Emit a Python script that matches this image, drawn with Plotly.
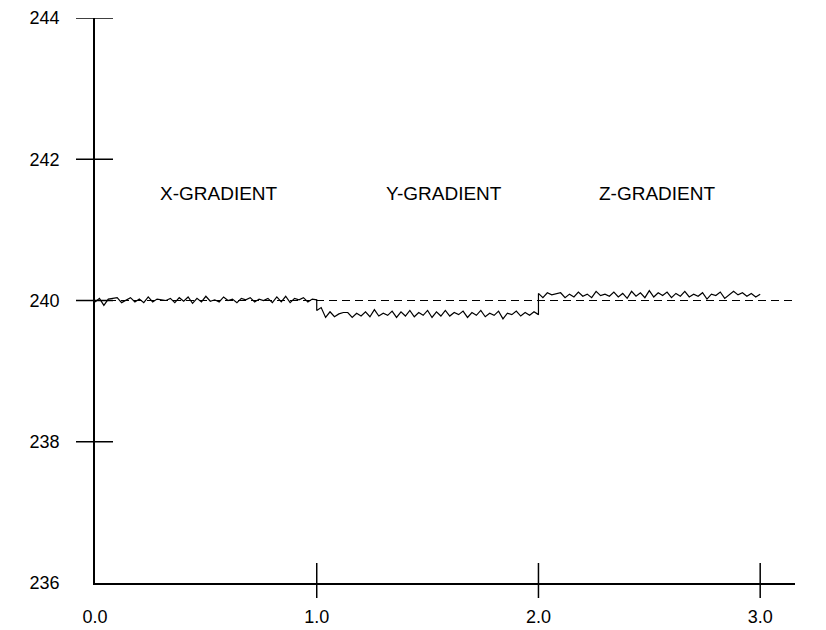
import plotly.graph_objects as go

# ---- data ----
SAMPLE_STEP = 0.02
seg_starts = [0.0, 1.0, 2.0]
x_gradient = [239.98, 240.03, 239.93, 240.02, 240.03, 240.04, 239.97, 240.01, 240.04, 239.98,
              240.02, 239.97, 240.05, 239.98, 240.02, 240.01, 240.00, 240.03, 239.97, 240.04,
              239.99, 240.05, 239.96, 240.03, 239.98, 240.06, 239.99, 240.01, 239.98, 240.05,
              240.00, 240.02, 239.97, 240.03, 240.01, 240.04, 239.98, 240.02, 240.00, 240.03,
              239.97, 240.05, 239.98, 240.06, 239.97, 240.03, 240.01, 240.04, 239.98, 240.02,
              240.01]
y_gradient = [239.86, 239.90, 239.76, 239.84, 239.77, 239.81, 239.83, 239.83, 239.76, 239.82,
              239.78, 239.84, 239.77, 239.87, 239.78, 239.82, 239.79, 239.85, 239.76, 239.84,
              239.78, 239.86, 239.77, 239.83, 239.79, 239.86, 239.76, 239.84, 239.78, 239.86,
              239.78, 239.83, 239.80, 239.85, 239.76, 239.83, 239.79, 239.86, 239.77, 239.82,
              239.79, 239.85, 239.74, 239.82, 239.80, 239.85, 239.78, 239.83, 239.79, 239.84,
              239.80]
z_gradient = [240.10, 240.04, 240.11, 240.08, 240.10, 240.11, 240.04, 240.09, 240.05, 240.12,
              240.06, 240.09, 240.04, 240.13, 240.07, 240.09, 240.06, 240.12, 240.05, 240.10,
              240.03, 240.13, 240.06, 240.11, 240.04, 240.14, 240.05, 240.11, 240.07, 240.12,
              240.04, 240.10, 240.06, 240.13, 240.05, 240.09, 240.06, 240.11, 240.02, 240.09,
              240.07, 240.12, 240.03, 240.08, 240.13, 240.08, 240.11, 240.06, 240.10, 240.05,
              240.09]
reference_level = 240.0
reference_x = [0.0, 3.157]
labels = ["X-GRADIENT", "Y-GRADIENT", "Z-GRADIENT"]
label_x = [0.559, 1.572, 2.537]
label_y = 241.52
x_ticks = [0.0, 1.0, 2.0, 3.0]
x_tick_text = ["0.0", "1.0", "2.0", "3.0"]
y_ticks = [236, 238, 240, 242, 244]
y_tick_text = ["236", "238", "240", "242", "244"]
x_range = [0.0, 3.157]
y_range = [236.0, 244.0]

xs, ys = [], []
for start, seg in zip(seg_starts, [x_gradient, y_gradient, z_gradient]):
    for i, v in enumerate(seg):
        xs.append(round(start + i * SAMPLE_STEP, 4))
        ys.append(v)

FONT = "Liberation Sans, Arial, sans-serif"

fig = go.Figure()
fig.add_trace(go.Scatter(x=reference_x, y=[reference_level] * 2, mode="lines",
                         line=dict(color="black", width=1.2, dash="8px,5px"),
                         hoverinfo="skip", showlegend=False))
fig.add_trace(go.Scatter(x=xs, y=ys, mode="lines",
                         line=dict(color="black", width=1.2),
                         showlegend=False))

for t, lx in zip(labels, label_x):
    fig.add_annotation(x=lx, y=label_y, text=t, showarrow=False,
                       font=dict(family=FONT, size=19, color="black"),
                       xanchor="center", yanchor="middle")

# crossing tick marks
shapes = []
for tv in x_ticks[1:]:
    shapes.append(dict(type="line", xref="x", yref="paper", x0=tv, x1=tv,
                       ysizemode="pixel", yanchor=0, y0=-15, y1=20,
                       line=dict(color="black", width=1.5)))
for tv in y_ticks[1:]:
    shapes.append(dict(type="line", xref="paper", yref="y", y0=tv, y1=tv,
                       xsizemode="pixel", xanchor=0, x0=-19, x1=18,
                       line=dict(color="black", width=1.5)))

fig.update_layout(
    width=826, height=630,
    margin=dict(l=95, r=31, t=18, b=47),
    paper_bgcolor="white", plot_bgcolor="white",
    shapes=shapes,
    xaxis=dict(range=x_range, showgrid=False, zeroline=False, showline=True,
               linecolor="black", linewidth=1.5, ticks="", automargin=False,
               tickvals=x_ticks, ticktext=x_tick_text, ticklabelstandoff=17,
               tickfont=dict(family=FONT, size=18, color="black")),
    yaxis=dict(range=y_range, showgrid=False, zeroline=False, showline=True,
               linecolor="black", linewidth=1.5, ticks="", automargin=False,
               tickvals=y_ticks, ticktext=y_tick_text, ticklabelstandoff=30,
               tickfont=dict(family=FONT, size=18, color="black")),
)

fig.write_html("out.html")
